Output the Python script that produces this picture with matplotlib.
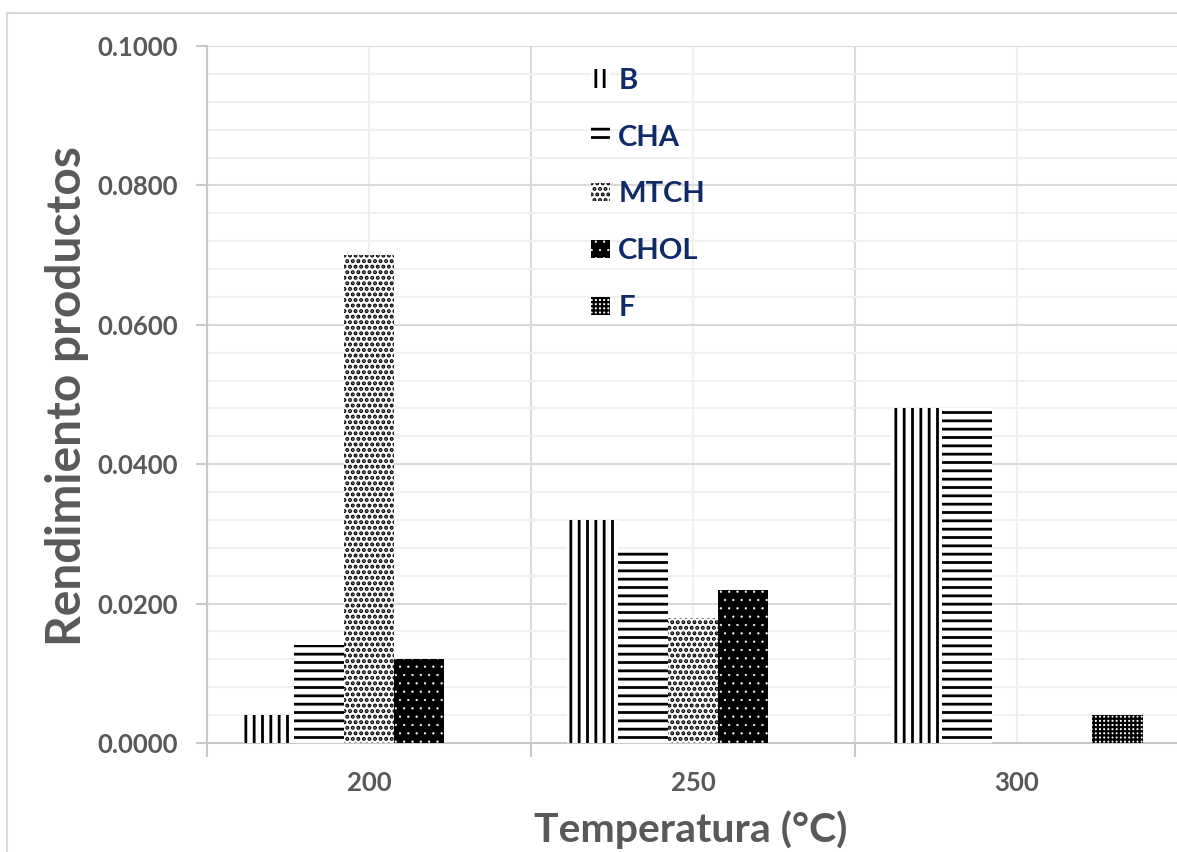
import numpy as np
import matplotlib
matplotlib.use("Agg")
import matplotlib.pyplot as plt
from matplotlib.patches import Rectangle

# Rendimiento de productos por temperatura
temperaturas = ["200", "250", "300"]
series = ["B", "CHA", "MTCH", "CHOL", "F"]
B = [0.0040, 0.0320, 0.0480]
CHA = [0.0140, 0.0275, 0.0480]
MTCH = [0.0700, 0.0180, 0.0]
CHOL = [0.0120, 0.0220, 0.0]
F = [0.0, 0.0, 0.0040]
valores = [B, CHA, MTCH, CHOL, F]

# estilo de cada serie: relleno, color de trama, trama, grosor de trama
estilos = [
    ("white", "black", "||", 2.0),
    ("white", "black", "--", 2.0),
    ("white", "black", "...", 2.0),
    ("black", "white", "..", 0.4),
    ("white", "black", "++++", 1.6),
]

plt.rcParams["font.family"] = ["Lato", "DejaVu Sans"]
plt.rcParams["font.weight"] = "bold"


def grosor_trama(patch, lw):
    if hasattr(patch, "set_hatch_linewidth"):
        patch.set_hatch_linewidth(lw)
    elif hasattr(patch, "_hatch_linewidth"):
        patch._hatch_linewidth = lw


fig = plt.figure(figsize=(11.77, 8.52), dpi=100)
ax = fig.add_axes([207 / 1177, 1 - 743 / 852, (1179 - 207) / 1177, (743 - 46) / 852])

# marco exterior del grafico
fig.patches.append(Rectangle((7 / 1177, -0.01), 1.0, 1 - 13 / 852 + 0.01,
                             transform=fig.transFigure, fill=False,
                             edgecolor="#d9d9d9", linewidth=1.5, zorder=0))

x = np.arange(len(temperaturas))
ancho = 0.155
handles = []
for i, (nombre, vals) in enumerate(zip(series, valores)):
    fc, hc, hatch, hlw = estilos[i]
    with plt.rc_context({"hatch.linewidth": hlw}):
        barras = ax.bar(x + (i - 2) * ancho, vals, ancho, facecolor=fc,
                        edgecolor=hc, linewidth=0, hatch=hatch, label=nombre,
                        zorder=3)
    for b in barras:
        grosor_trama(b, hlw)
    handles.append(barras)

ax.set_xlim(-0.5, 2.5)
ax.set_ylim(0, 0.1)

ax.set_yticks(np.arange(0, 0.1001, 0.02))
ax.set_yticks(np.arange(0, 0.1001, 0.004), minor=True)
ax.set_yticklabels([f"{v:.4f}" for v in np.arange(0, 0.1001, 0.02)])

ax.set_xticks([-0.5, 0.5, 1.5, 2.5])
ax.set_xticklabels([])
ax.set_xticks(x, minor=True)
ax.set_xticklabels(temperaturas, minor=True)

ax.grid(True, which="major", color="#d9d9d9", linewidth=1.5, zorder=0)
ax.grid(True, which="minor", color="#f0f0f0", linewidth=1.5, zorder=0)
ax.set_axisbelow(True)

for s in ["top", "right"]:
    ax.spines[s].set_visible(False)
ax.spines["left"].set_color("#c8c8c8")
ax.spines["bottom"].set_color("#c8c8c8")
ax.spines["left"].set_linewidth(1.5)
ax.spines["bottom"].set_linewidth(1.5)

ax.tick_params(axis="y", which="major", length=8, width=1.5, color="#c8c8c8",
               labelsize=18.5, labelcolor="#595959", pad=13)
ax.tick_params(axis="y", which="minor", length=0)
ax.tick_params(axis="x", which="major", length=10, width=1.5, color="#c8c8c8")
ax.tick_params(axis="x", which="minor", length=0, labelsize=18.5,
               labelcolor="#595959", pad=20)

fig.text(691 / 1177, 1 - 830 / 852, "Temperatura (°C)", ha="center",
         va="center", fontsize=29.5, color="#595959", fontweight="bold")
fig.text(67 / 1177, 1 - 396 / 852, "Rendimiento productos", ha="center",
         va="center", rotation=90, fontsize=34.5, color="#595959",
         fontweight="bold")

leg = ax.legend(handles=handles, loc="upper left",
                bbox_to_anchor=(576 / 1177, 1 - 53 / 852),
                bbox_transform=fig.transFigure, frameon=False, fontsize=21,
                handlelength=0.65, handleheight=0.6, handletextpad=0.3,
                labelspacing=1.06, borderpad=0)
for t in leg.get_texts():
    t.set_color("#0e2a68")
for h, est in zip(leg.legend_handles, estilos):
    grosor_trama(h, est[3])

fig.savefig("out.png", dpi=100)
